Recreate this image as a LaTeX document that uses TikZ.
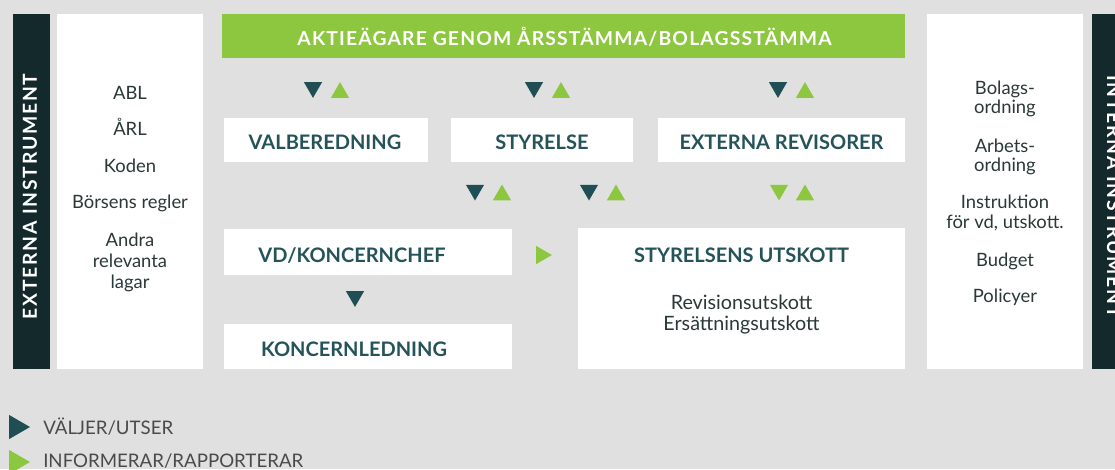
\documentclass[tikz,border=0pt]{standalone}
\usepackage{fontspec}
\setmainfont{Lato}
\usetikzlibrary{shapes.geometric}

\definecolor{bggray}{HTML}{E0E0E0}
\definecolor{darkbar}{HTML}{13292B}
\definecolor{leafgreen}{HTML}{8DC63F}
\definecolor{petrol}{HTML}{1F4E55}
\definecolor{labeltext}{HTML}{24535A}
\definecolor{bodytext}{HTML}{2B3838}
\definecolor{legendtext}{HTML}{4A4A4A}

\def\px{0.75pt}

\tikzset{
	box/.style = {fill=white, inner sep=0pt},
	boxlabel/.style = {font=\fontsize{15}{18}\selectfont\bfseries, text=labeltext, inner sep=0pt, anchor=base},
	bodyline/.style = {font=\fontsize{13.8}{16}\selectfont, text=bodytext, inner sep=0pt, anchor=base},
	barlabel/.style = {font=\fontsize{14.5}{17}\selectfont\bfseries\addfontfeatures{LetterSpace=6}, text=white, inner sep=0pt},
	sidelabel/.style = {barlabel, font=\fontsize{14.5}{17}\selectfont\bfseries\addfontfeatures{LetterSpace=9}},
	legendline/.style = {font=\fontsize{14}{16}\selectfont, text=legendtext, inner sep=0pt, anchor=base west},
	tri/.style = {regular polygon, regular polygon sides=3, inner sep=0pt, minimum size=21*\px},
	tridown/.style = {tri, shape border rotate=180},
	triright/.style = {tri, shape border rotate=-90},
}

\begin{document}
\begin{tikzpicture}[x=0.75pt, y=-0.75pt]
		%frame
		\useasboundingbox (0,0) rectangle (1115,469);
		\clip (0,0) rectangle (1115,469);
		\fill [bggray] (0,0) rectangle (1115,469);
		
		%side bars
		\fill [darkbar] (13,14) rectangle (50,369);
		\fill [darkbar] (1092,14) rectangle (1125,369);
		\node [sidelabel, rotate=90] (extinst) at (30,196.5) {EXTERNA INSTRUMENT};
		\node [sidelabel, rotate=-90] (intinst) at (1114,196.5) {INTERNA INSTRUMENT};
		
		%side panels
		\node [box, minimum width=146*\px, minimum height=355*\px] (extpanel) at (130,191.5) {};
		\node [box, minimum width=156*\px, minimum height=355*\px] (intpanel) at (1005,191.5) {};
		
		\foreach \txt/\yy [count=\i] in {ABL/99, ÅRL/135, Koden/172, Börsens regler/208, Andra/246, relevanta/267, lagar/288}
			\node [bodyline] (ext\i) at (130,\yy) {\txt};
		
		\foreach \txt/\yy [count=\i] in {Bolags-/94, ordning/113, Arbets-/152, ordning/171, Instruktion/208, {för vd, utskott.}/228, Budget/266, Policyer/302}
			\node [bodyline] (int\i) at (1005,\yy) {\txt};
		
		%shareholders
		\node [box, fill=leafgreen, minimum width=683*\px, minimum height=44*\px] (agm) at (563.5,36) {};
		\node [barlabel] (agmtxt) at (564.5,37) {AKTIEÄGARE GENOM ÅRSSTÄMMA/BOLAGSSTÄMMA};
		
		%bodies
		\node [box, minimum width=204*\px, minimum height=44*\px] (valb) at (326,140) {};
		\node [box, minimum width=182*\px, minimum height=44*\px] (styr) at (542,140) {};
		\node [box, minimum width=247*\px, minimum height=44*\px] (revisor) at (781.5,140) {};
		\node [box, minimum width=288*\px, minimum height=46*\px] (vd) at (368,252) {};
		\node [box, minimum width=288*\px, minimum height=45*\px] (ledning) at (368,346.5) {};
		\node [box, minimum width=327*\px, minimum height=141*\px] (utskott) at (741.5,298.5) {};
		
		\node [boxlabel] (valbtxt) at (325,149) {VALBEREDNING};
		\node [boxlabel] (styrtxt) at (542,149) {STYRELSE};
		\node [boxlabel] (revisortxt) at (781.5,149) {EXTERNA REVISORER};
		\node [boxlabel] (vdtxt) at (352,262) {VD/KONCERNCHEF};
		\node [boxlabel] (ledningtxt) at (354,356) {KONCERNLEDNING};
		\node [boxlabel] (utskotttxt) at (741.5,262) {STYRELSENS UTSKOTT};
		\node [bodyline, font=\fontsize{14.8}{18}\selectfont] (revutsk) at (741.5,309) {Revisionsutskott};
		\node [bodyline, font=\fontsize{14.8}{18}\selectfont] (ersutsk) at (741.5,330) {Ersättningsutskott};
		
		%selects / reports
		\foreach \xx [count=\i] in {313,534,778}
			\node [tridown, fill=petrol] (sel\i) at (\xx,87.4) {};
		\foreach \xx [count=\i] in {340,561,805}
			\node [tri, fill=leafgreen] (rep\i) at (\xx,92.6) {};
		
		\node [tridown, fill=petrol] (selvd) at (475,190) {};
		\node [tri, fill=leafgreen] (repvd) at (502,195) {};
		\node [tridown, fill=petrol] (selutsk) at (589,190) {};
		\node [tri, fill=leafgreen] (reputsk) at (616,195) {};
		\node [tridown, fill=leafgreen] (inforev) at (779,190) {};
		\node [tri, fill=leafgreen] (reprev) at (805,195) {};
		
		\node [tridown, fill=petrol] (selled) at (355,296.4) {};
		\node [triright, fill=leafgreen] (infoutsk) at (541.4,255) {};
		
		%legend
		\node [triright, fill=petrol, minimum size=28*\px] (legsel) at (16,427) {};
		\node [triright, fill=leafgreen, minimum size=28*\px] (legrep) at (16,462) {};
		\node [legendline] (legseltxt) at (43,434) {VÄLJER/UTSER};
		\node [legendline] (legreptxt) at (43,467) {INFORMERAR/RAPPORTERAR};
	\end{tikzpicture}
\end{document}
